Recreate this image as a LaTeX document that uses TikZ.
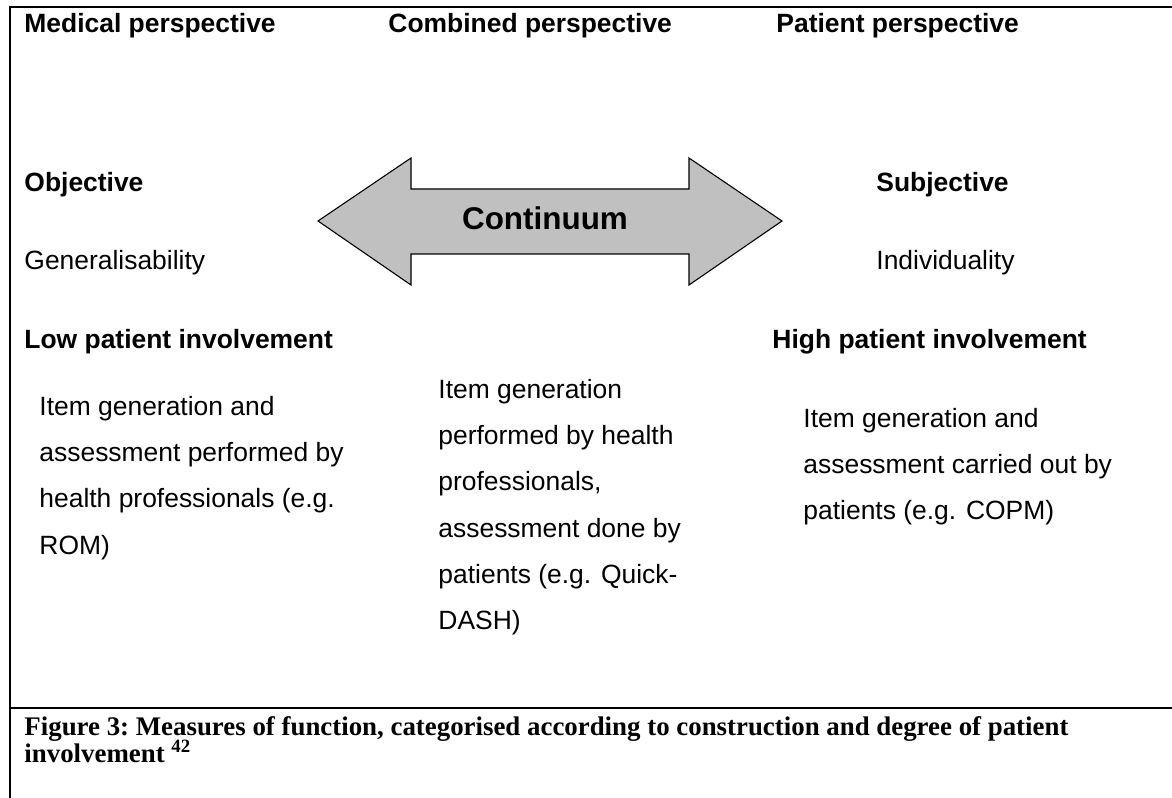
\documentclass[tikz,border=0pt]{standalone}
\usepackage{fontspec}
\setmainfont{Liberation Sans}
\newfontfamily\capfont{Liberation Serif}
\usepackage{tikz}
\usetikzlibrary{positioning, calc}
\definecolor{arrowgrey}{RGB}{192,192,192}
\tikzset{
  headnode/.style={anchor=base west,inner sep=0pt,
                   font=\fontsize{12.2}{14}\selectfont\bfseries},
  plainnode/.style={anchor=base west,inner sep=0pt,
                    font=\fontsize{12.2}{14}\selectfont},
  bodynode/.style={anchor=north west,inner sep=0pt,align=left,
                   font=\fontsize{12.2}{21.3}\selectfont},
  capnode/.style={anchor=north west,inner sep=0pt,align=left,
                  font=\capfont\fontsize{12.4}{12.4}\selectfont\bfseries\frenchspacing},
  framerule/.style={line width=0.95pt,black},
  bigarrow/.style={draw=black,line width=0.5pt,fill=arrowgrey,line join=miter}
}

\begin{document}
\begin{tikzpicture}[x=0.4615pt,y=-0.4615pt]
  \useasboundingbox (0,0) rectangle (1172,798);

  % frame of the figure box
  \draw[framerule] (9,7) -- (1172,7);
  \draw[framerule] (10,7) -- (10,798);
  \draw[framerule] (9,708) -- (1172,708);

  % column headings
  \node[headnode] (medp) at (24,33) {Medical perspective};
  \node[headnode] (combp) at (388,33) {Combined perspective};
  \node[headnode] (patp) at (776,33) {Patient perspective};

  \node[headnode] (obj) at (24,192) {Objective};
  \node[headnode] (subj) at (876,192) {Subjective};
  \node[plainnode] (gen) at (24,270) {Generalisability};
  \node[plainnode] (indiv) at (876,270) {Individuality};
  \node[headnode] (lowinv) at (24,349) {Low patient involvement};
  \node[headnode] (highinv) at (772,349) {High patient involvement};

  % double headed arrow
  \draw[bigarrow] (318,221) -- (411,158) -- (411,189) -- (689,189) -- (689,158)
    -- (782,221) -- (689,285) -- (689,254) -- (411,254) -- (411,285) -- cycle;
  \node[anchor=base,inner sep=0pt,font=\fontsize{14.5}{17}\selectfont\bfseries]
    (cont) at (545,230) {Continuum};

  % descriptions
  \node[bodynode] (leftdesc) at (39,396) {Item generation and\\assessment performed by\\health professionals (e.g.\\ROM)};
  \node[bodynode] (middesc) at (438,379) {Item generation\\performed by health\\professionals,\\assessment done by\\patients (e.g. Quick-\\DASH)};
  \node[bodynode] (rightdesc) at (803,408) {Item generation and\\assessment carried out by\\patients (e.g. COPM)};

  % caption
  \node[capnode] (caption) at (24,716) {Figure 3: Measures of function, categorised according to construction and degree of patient\\involvement \smash{\textsuperscript{42}}};
\end{tikzpicture}
\end{document}
